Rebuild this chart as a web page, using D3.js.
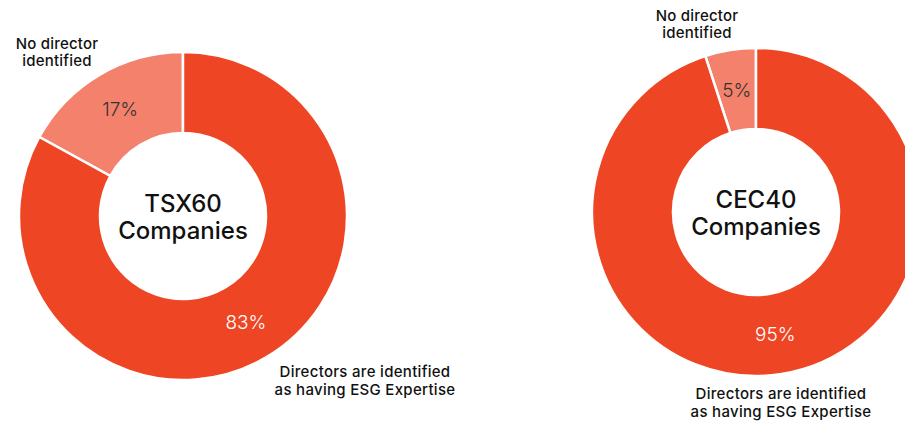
<!DOCTYPE html>
<html><head><meta charset="utf-8">
<script src="https://cdn.jsdelivr.net/npm/d3@7"></script>
<style>html,body{margin:0;padding:0;background:#fff;}svg{display:block;font-family:Inter,"Noto Sans",sans-serif;}</style>
</head><body>
<svg id="chart" width="905" height="426"></svg>
<script>
const categories = ["No director identified", "Directors are identified as having ESG Expertise"];
const tsxValues = [17, 83];
const cecValues = [5, 95];
const chartTitles = [["TSX60", "Companies"], ["CEC40", "Companies"]];
const topLabelLines = ["No director", "identified"];
const bottomLabelLines = ["Directors are identified", "as having ESG Expertise"];
const colors = ["#F4816B", "#EE4524"];

const svg = d3.select("#chart");
const R = 164, r = 83;
const arc = d3.arc().innerRadius(r).outerRadius(R);

const charts = [
  {values: tsxValues, cx: 183, cy: 216, title: chartTitles[0],
   topLabel: {x: 57, y: 48.5}, bottomLabel: {x: 365, y: 377}},
  {values: cecValues, cx: 756, cy: 212, title: chartTitles[1],
   topLabel: {x: 697, y: 20.5}, bottomLabel: {x: 781, y: 399}}
];

charts.forEach(c => {
  const g = svg.append("g").attr("transform", `translate(${c.cx},${c.cy})`);
  const share = 2 * Math.PI * c.values[0] / d3.sum(c.values);
  const pie = d3.pie().sort(null).value(d => d)
    .startAngle(-share).endAngle(2 * Math.PI - share);
  const data = pie(c.values);
  g.selectAll("path").data(data).join("path")
    .attr("d", arc)
    .attr("fill", (d, i) => colors[i])
    .attr("stroke", "#fff").attr("stroke-width", 2.5);
  g.selectAll("text.pct").data(data).join("text")
    .attr("class", "pct")
    .attr("transform", d => `translate(${arc.centroid(d)})`)
    .attr("text-anchor", "middle").attr("dy", "0.35em")
    .attr("font-size", 19).attr("font-weight", 300)
    .attr("fill", (d, i) => i === 0 ? "#333" : "#fff")
    .text(d => d.data + "%");
  g.append("text").attr("text-anchor", "middle")
    .attr("font-size", 24).attr("font-weight", 500).attr("fill", "#111")
    .attr("x", 0).attr("y", -4).text(c.title[0]);
  g.append("text").attr("text-anchor", "middle")
    .attr("font-size", 24).attr("font-weight", 500).attr("fill", "#111")
    .attr("x", 0).attr("y", 23).text(c.title[1]);

  topLabelLines.forEach((line, i) => {
    svg.append("text").attr("text-anchor", "middle")
      .attr("font-size", 15).attr("font-weight", 500).attr("fill", "#111")
      .attr("letter-spacing", 0.2)
      .attr("x", c.topLabel.x).attr("y", c.topLabel.y + i * 17.5).text(line);
  });
  bottomLabelLines.forEach((line, i) => {
    svg.append("text").attr("text-anchor", "middle")
      .attr("font-size", 15).attr("font-weight", 500).attr("fill", "#111")
      .attr("letter-spacing", 0.3)
      .attr("x", c.bottomLabel.x).attr("y", c.bottomLabel.y + i * 17.5).text(line);
  });
});
</script>
</body></html>
